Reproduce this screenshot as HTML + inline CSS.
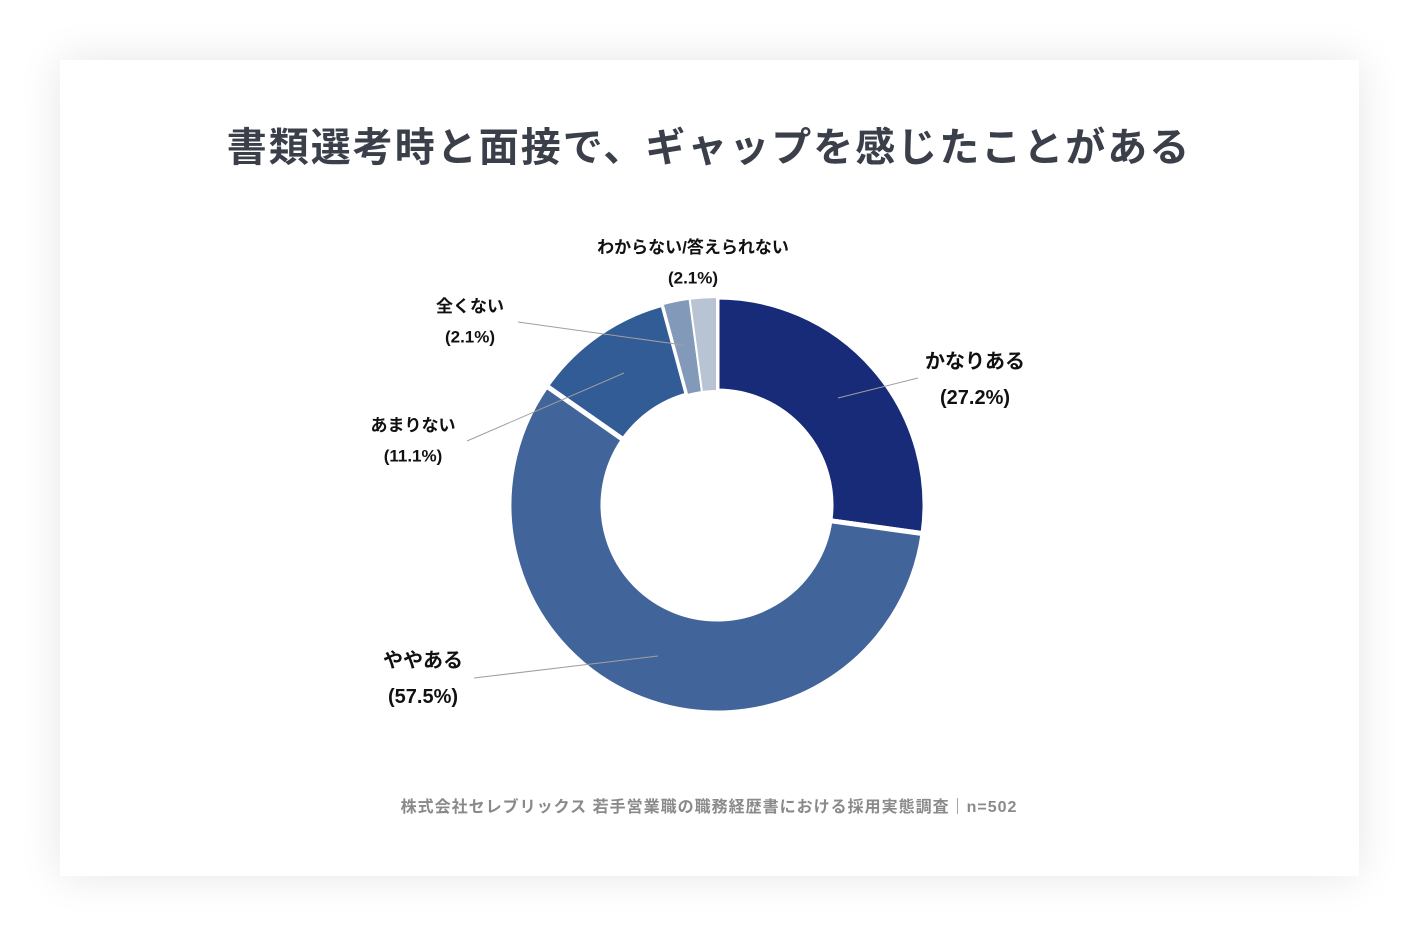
<!DOCTYPE html>
<html><head><meta charset="utf-8"><style>
body{margin:0;width:1419px;height:936px;background:#fff;font-family:"Liberation Sans","Noto Sans CJK JP",sans-serif;overflow:hidden}
#card{position:absolute;left:60px;top:60px;width:1299px;height:816px;background:#fff;box-shadow:0 0 40px rgba(0,0,0,0.10)}
</style></head><body>
<div id="card"></div>
<svg id="chart" width="1419" height="936" style="position:absolute;left:0;top:0">
<text x="709" y="161" text-anchor="middle" font-size="40" font-weight="bold" fill="#3a3f4a" letter-spacing="2">書類選考時と面接で、ギャップを感じたことがある</text>
<g id="slices"></g>
<g id="labels"></g>
<text x="709" y="812" text-anchor="middle" font-size="16" font-weight="bold" fill="#8a8a8a" letter-spacing="1">株式会社セレブリックス 若手営業職の職務経歴書における採用実態調査｜n=502</text>
</svg>
<script>
const categories=["かなりある","ややある","あまりない","全くない","わからない/答えられない"];
const values=[27.2,57.5,11.1,2.1,2.1];
const valueLabels=["(27.2%)","(57.5%)","(11.1%)","(2.1%)","(2.1%)"];
const colors=["#182b78","#41649b","#315c96","#8399b9","#b8c4d4"];
const cx=717,cy=505,R=208,r=114;
const NS="http://www.w3.org/2000/svg";
const total=values.reduce((a,b)=>a+b,0);
function pt(a,rad){return [cx+rad*Math.sin(a),cy-rad*Math.cos(a)];}
const labelPos=[
 {lx:975,ly:368,fs:20,ax:838,ay:398,ex:918,ey:378},
 {lx:423,ly:667,fs:20,ax:658,ay:656,ex:474,ey:678},
 {lx:413,ly:431,fs:17,ax:624,ay:373,ex:467,ey:441},
 {lx:470,ly:312,fs:17,ax:683,ay:345,ex:518,ey:322},
 {lx:693,ly:253,fs:17,ax:null}
];
let acc=0;
const gs=document.getElementById('slices'),gl=document.getElementById('labels');
values.forEach((v,i)=>{
 const a0=acc/total*2*Math.PI;acc+=v;const a1=acc/total*2*Math.PI;
 const large=(a1-a0)>Math.PI?1:0;
 const p0=pt(a0,R),p1=pt(a1,R),q1=pt(a1,r),q0=pt(a0,r);
 const p=document.createElementNS(NS,'path');
 p.setAttribute('d',`M${p0[0]},${p0[1]}A${R},${R} 0 ${large} 1 ${p1[0]},${p1[1]}L${q1[0]},${q1[1]}A${r},${r} 0 ${large} 0 ${q0[0]},${q0[1]}Z`);
 p.setAttribute('fill',colors[i]);p.setAttribute('stroke','#fff');p.setAttribute('stroke-width',i<3?'5':'2');
 
 
 gs.appendChild(p);
 const L=labelPos[i];
 if(L.ax!==null){const ln=document.createElementNS(NS,'polyline');
  ln.setAttribute('points',`${L.ax},${L.ay} ${L.ex},${L.ey}`);ln.setAttribute('stroke','#a0a0a0');ln.setAttribute('fill','none');ln.setAttribute('stroke-width','1');
  
  
  gl.appendChild(ln);}
 [categories[i],valueLabels[i]].forEach((t,k)=>{
  const tx=document.createElementNS(NS,'text');
  tx.setAttribute('x',L.lx);tx.setAttribute('y',L.ly+k*(L.fs*1.8));
  tx.setAttribute('text-anchor','middle');tx.setAttribute('font-size',L.fs);tx.setAttribute('font-weight','bold');tx.setAttribute('fill','#111');
  tx.textContent=t;
  
  
  gl.appendChild(tx);});
});
</script>
</body></html>
